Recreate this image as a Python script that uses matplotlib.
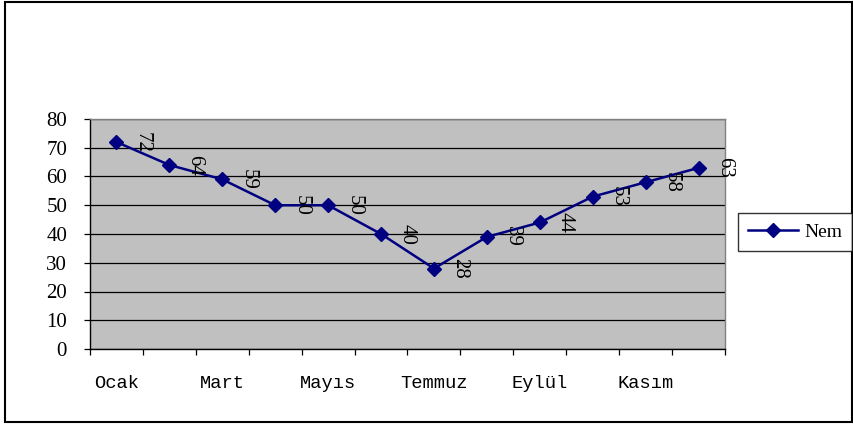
import matplotlib
matplotlib.use("Agg")
import matplotlib.pyplot as plt
from matplotlib.patches import Rectangle

months = ["Ocak", "Şubat", "Mart", "Nisan", "Mayıs", "Haziran",
          "Temmuz", "Ağustos", "Eylül", "Ekim", "Kasım", "Aralık"]
nem = [72, 64, 59, 50, 50, 40, 28, 39, 44, 53, 58, 63]
y_ticks = [0, 10, 20, 30, 40, 50, 60, 70, 80]
series_name = "Nem"

W, H = 854, 424
fig = plt.figure(figsize=(W / 100, H / 100), dpi=100)
ax = fig.add_axes([90 / W, 1 - 349 / H, (725 - 90) / W, (349 - 119) / H])
ax.set_facecolor("#C0C0C0")

mono = "Liberation Mono"
serif = "Liberation Serif"

x = list(range(len(months)))
ax.plot(x, nem, color="#000080", lw=1.8, marker="D", markersize=7.5,
        markerfacecolor="#000080", markeredgecolor="#000080", zorder=3,
        label=series_name)

for xi, v in zip(x, nem):
    ax.annotate(str(v), (xi, v), xytext=(18.5, 0), textcoords="offset points",
                rotation=270, ha="center", va="center", fontsize=15,
                family=serif, color="black", zorder=4)

ax.set_xlim(-0.5, len(months) - 0.5)
ax.set_ylim(0, 80)
ax.set_yticks(y_ticks)
ax.set_yticklabels([str(t) for t in y_ticks], family=serif, fontsize=15)
ax.yaxis.grid(True, color="black", lw=0.9)
ax.set_axisbelow(True)

ax.set_xticks([i - 0.5 for i in range(len(months) + 1)])
ax.set_xticklabels([])
ax.set_xticks(x[::2], minor=True)
ax.set_xticklabels(months[::2], minor=True, family=mono, fontsize=13.5)
ax.tick_params(axis="x", which="minor", length=0, pad=19)
ax.tick_params(axis="x", which="major", length=4.5, width=0.9, direction="out")
ax.tick_params(axis="y", length=4.5, width=0.9, pad=12)

ax.spines["left"].set_color("black")
ax.spines["bottom"].set_color("black")
ax.spines["top"].set_color("#808080")
ax.spines["right"].set_color("#808080")
for s in ax.spines.values():
    s.set_linewidth(1.0)

leg = fig.legend(loc="center left", bbox_to_anchor=(738 / W, 1 - 232 / H),
                 frameon=True, fancybox=False, edgecolor="black",
                 prop={"family": serif, "size": 14}, handlelength=2.6,
                 borderpad=0.5, handletextpad=0.3, borderaxespad=0)
leg.get_frame().set_linewidth(1.0)

fig.patches.append(Rectangle((5 / W, 2 / H), (852 - 5) / W, (422 - 2) / H,
                             transform=fig.transFigure, fill=False,
                             edgecolor="black", lw=1.5))

fig.savefig("out.png", dpi=100)
